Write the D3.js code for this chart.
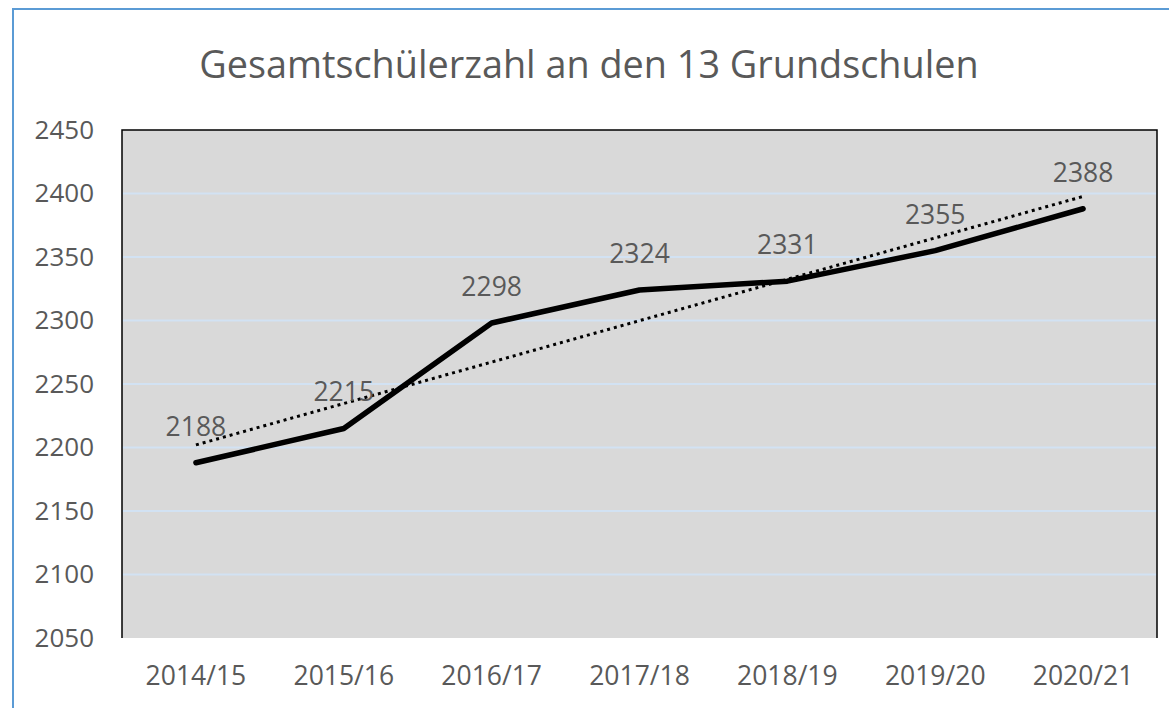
<!DOCTYPE html>
<html>
<head>
<meta charset="utf-8">
<script src="https://cdn.jsdelivr.net/npm/d3@7"></script>
<style>
  body { margin: 0; background: #fff; }
  text { font-family: "Open Sans", sans-serif; fill: #595959; }
</style>
</head>
<body>
<script>
var WIDTH = 1169,
    HEIGHT = 708;

var title = "Gesamtschülerzahl an den 13 Grundschulen";
var years = ["2014/15", "2015/16", "2016/17", "2017/18", "2018/19", "2019/20", "2020/21"];
var pupils = [2188, 2215, 2298, 2324, 2331, 2355, 2388];
var yTicks = [2050, 2100, 2150, 2200, 2250, 2300, 2350, 2400, 2450];

var plot = { left: 122, top: 130, right: 1157, bottom: 638 };

var svg = d3.select("body").append("svg")
      .attr("width", WIDTH)
      .attr("height", HEIGHT);

// outer chart frame (runs off the right and bottom edge)
svg.append("rect")
  .attr("x", 13).attr("y", 9)
  .attr("width", 1200).attr("height", 760)
  .attr("fill", "#fff")
  .attr("stroke", "#5b9bd5")
  .attr("stroke-width", 2);

var x = d3.scaleBand()
      .domain(years)
      .range([plot.left, plot.right]);

var y = d3.scaleLinear()
      .domain([2050, 2450])
      .range([plot.bottom, plot.top]);

var cx = function(d, i) { return x(years[i]) + x.bandwidth() / 2; };

svg.append("rect")
  .attr("x", plot.left).attr("y", plot.top)
  .attr("width", plot.right - plot.left)
  .attr("height", plot.bottom - plot.top)
  .attr("fill", "#d9d9d9");

// gridlines
svg.selectAll(".grid").data(yTicks.slice(1, -1))
  .enter().append("line")
  .attr("class", "grid")
  .attr("x1", plot.left).attr("x2", plot.right)
  .attr("y1", function(d) { return y(d); })
  .attr("y2", function(d) { return y(d); })
  .attr("stroke", "#d2e2f3")
  .attr("stroke-width", 2);

// frame on left, top, right
svg.append("path")
  .attr("d", d3.line()([[plot.left, plot.bottom], [plot.left, plot.top],
                        [plot.right, plot.top], [plot.right, plot.bottom]]))
  .attr("fill", "none")
  .attr("stroke", "#000")
  .attr("stroke-width", 1.5);

// y axis labels
var yAxis = svg.append("g")
  .attr("transform", "translate(" + (plot.left - 28) + ",0)")
  .call(d3.axisLeft(y).tickValues(yTicks).tickFormat(d3.format("d")).tickSize(0).tickPadding(0));
yAxis.select(".domain").remove();
yAxis.selectAll("text")
  .attr("font-size", 26)
  .attr("fill", "#595959")
  .attr("font-family", "Open Sans, sans-serif");

// x axis labels
var xAxis = svg.append("g")
  .attr("transform", "translate(0," + (plot.bottom + 28) + ")")
  .call(d3.axisBottom(x).tickSize(0).tickPadding(0));
xAxis.select(".domain").remove();
xAxis.selectAll("text")
  .attr("font-size", 26.5)
  .attr("fill", "#595959")
  .attr("font-family", "Open Sans, sans-serif");

// linear trendline, as the spreadsheet draws it
var idx = d3.range(pupils.length),
    mx = d3.mean(idx),
    my = d3.mean(pupils),
    slope = d3.sum(idx, function(i) { return (i - mx) * (pupils[i] - my); }) /
            d3.sum(idx, function(i) { return (i - mx) * (i - mx); }),
    icpt = my - slope * mx;
var trend = [0, pupils.length - 1].map(function(i) {
  return [cx(null, i), y(icpt + slope * i)];
});

svg.append("path")
  .attr("d", d3.line()(trend))
  .attr("fill", "none")
  .attr("stroke", "#000")
  .attr("stroke-width", 3)
  .attr("stroke-dasharray", "3,4");

svg.append("path")
  .datum(pupils)
  .attr("d", d3.line().x(cx).y(function(d) { return y(d); }))
  .attr("fill", "none")
  .attr("stroke", "#000")
  .attr("stroke-width", 5.5)
  .attr("stroke-linejoin", "round")
  .attr("stroke-linecap", "round");

// data labels
svg.selectAll(".lbl").data(pupils)
  .enter().append("text")
  .attr("class", "lbl")
  .attr("x", cx)
  .attr("y", function(d) { return y(d) - 27; })
  .attr("text-anchor", "middle")
  .attr("font-size", 26.5)
  .text(function(d) { return d; });

svg.append("text")
  .attr("x", 589)
  .attr("y", 78)
  .attr("text-anchor", "middle")
  .attr("font-size", 37.8)
  .text(title);
</script>
</body>
</html>
